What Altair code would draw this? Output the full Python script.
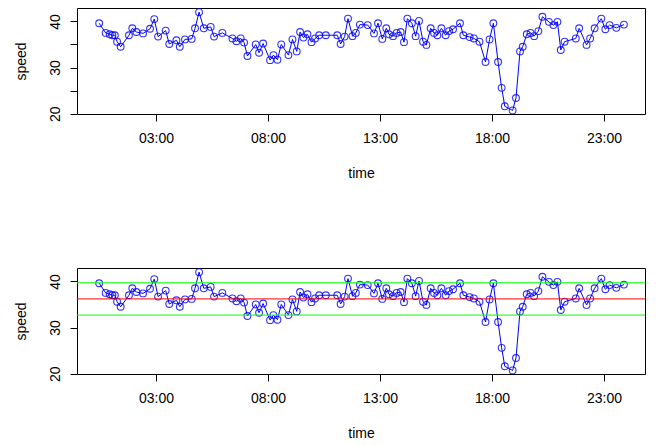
import altair as alt
import pandas as pd

# time of each reading (hours after midnight) and measured speed
hours = [0.46, 0.75, 0.93, 1.05, 1.16, 1.26, 1.42, 1.79, 1.94, 2.12, 2.42, 2.73, 2.92,
         3.09, 3.43, 3.59, 3.91, 4.06, 4.29, 4.59, 4.74, 4.92, 5.13, 5.44, 5.59, 5.96,
         6.41, 6.59, 6.78, 6.93, 7.08, 7.45, 7.60, 7.78, 8.09, 8.24, 8.42, 8.59, 8.91,
         9.09, 9.28, 9.43, 9.58, 9.76, 9.94, 10.10, 10.28, 10.58, 11.09, 11.24, 11.42,
         11.57, 11.77, 11.92, 12.10, 12.45, 12.73, 12.91, 13.10, 13.28, 13.40, 13.58,
         13.74, 13.92, 14.07, 14.22, 14.42, 14.59, 14.74, 14.92, 15.07, 15.26, 15.41,
         15.56, 15.74, 15.93, 16.08, 16.26, 16.57, 16.72, 17.00, 17.19, 17.44, 17.71,
         17.89, 18.06, 18.27, 18.43, 18.57, 18.92, 19.07, 19.25, 19.37, 19.55, 19.72,
         19.88, 20.07, 20.25, 20.54, 20.74, 20.92, 21.07, 21.24, 21.74, 21.89, 22.22,
         22.38, 22.58, 22.88, 23.06, 23.25, 23.55, 23.89]
speed = [39.6, 37.5, 37.2, 37.0, 37.0, 35.6, 34.5, 37.0, 38.5, 37.7, 37.4, 38.4, 40.5,
         36.7, 38.0, 35.1, 35.9, 34.5, 36.1, 36.2, 38.5, 42.0, 38.5, 38.8, 36.7, 37.5,
         36.3, 35.7, 36.3, 35.4, 32.5, 35.0, 33.2, 35.2, 31.6, 32.7, 31.7, 35.0, 32.7,
         36.1, 33.5, 37.7, 36.5, 37.2, 35.5, 36.3, 37.0, 37.0, 37.0, 35.1, 36.7,
         40.6, 36.8, 37.5, 39.3, 39.2, 37.4, 39.6, 36.2, 38.5, 37.2, 36.8,
         37.5, 37.7, 35.5, 40.6, 39.6, 36.8, 40.1, 35.6, 34.9, 38.5, 37.5,
         37.0, 38.5, 37.0, 37.9, 38.3, 39.6, 37.0, 36.6, 36.3, 35.6, 31.2,
         36.1, 39.6, 31.2, 25.6, 21.6, 20.7, 23.4, 33.5, 34.5, 37.2, 37.5,
         36.8, 37.9, 41.0, 39.9, 39.2, 39.9, 33.8, 35.6, 36.3, 38.5, 34.9,
         36.3, 38.5, 40.6, 38.3, 39.2, 38.6, 39.3]

# reference lines in lower panel: mean and mean +/- one sd
ref_levels = [39.7, 36.2, 32.7]
ref_colors = ["#00ff00", "#ff0000", "#00ff00"]

x_ticks = [3, 8, 13, 18, 23]
y_ticks = [20, 25, 30, 35, 40]

df = pd.DataFrame({"hour": hours, "speed": speed})
ref_df = pd.DataFrame({"level": ref_levels, "col": ref_colors})

FONT = "Liberation Sans"
W, H = 568, 106

x_enc = alt.X(
    "hour:Q",
    scale=alt.Scale(domain=[-0.53, 24.83], nice=False, zero=False),
    axis=alt.Axis(
        values=x_ticks,
        labelExpr="(datum.value < 10 ? '0' : '') + datum.value + ':00'",
        title="time",
        tickSize=7,
        labelPadding=10,
        titlePadding=21,
        labelFlush=False,
    ),
)
y_enc = alt.Y(
    "speed:Q",
    scale=alt.Scale(domain=[19.93, 42.9], nice=False, zero=False),
    axis=alt.Axis(
        values=y_ticks,
        labelExpr="datum.value % 10 == 0 ? datum.value : ''",
        title="speed",
        tickSize=7,
        labelAngle=270,
        labelAlign="center",
        labelBaseline="bottom",
        labelPadding=8,
        titlePadding=20,
        labelFlush=False,
    ),
)


def panel(with_refs):
    base = alt.Chart(df).encode(x=x_enc, y=y_enc)
    line = base.mark_line(color="#0000ff", strokeWidth=1)
    pts = base.mark_point(shape="circle", filled=False, size=46, color="#0000ff",
                          strokeWidth=1.1, opacity=0.8)
    layers = [line, pts]
    if with_refs:
        rules = alt.Chart(ref_df).mark_rule(strokeWidth=1).encode(
            y=alt.Y("level:Q"),
            color=alt.Color("col:N", scale=None),
        )
        layers.append(rules)
    return alt.layer(*layers).properties(width=W, height=H)


chart = alt.vconcat(panel(False), panel(True), spacing=85).properties(
    padding={"left": 5, "top": -2, "right": 5, "bottom": 0}
).configure_view(stroke="black", strokeWidth=1).configure_axis(
    grid=False,
    domain=False,
    tickColor="black",
    labelColor="black",
    titleColor="black",
    labelFont=FONT,
    titleFont=FONT,
    labelFontSize=14,
    titleFontSize=14,
    titleFontWeight="normal",
)

chart.save("out.html", embed_options={"renderer": "svg", "actions": False})
